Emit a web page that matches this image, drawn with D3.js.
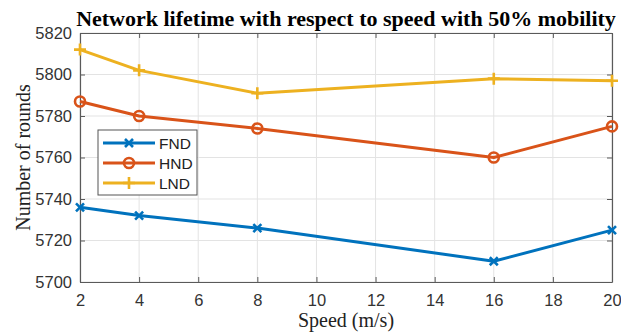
<!DOCTYPE html>
<html>
<head>
<meta charset="utf-8">
<script src="https://cdn.jsdelivr.net/npm/d3@7"></script>
<style>
  body { margin: 0; background: #fff; }
  svg { display: block; }
</style>
</head>
<body>
<div id="chart"></div>
<script>
const speeds = [2, 4, 8, 16, 20]
const fnd = [5736, 5732, 5726, 5710, 5725]
const hnd = [5787, 5780, 5774, 5760, 5775]
const lnd = [5812, 5802, 5791, 5798, 5797]
const xTicks = [2, 4, 6, 8, 10, 12, 14, 16, 18, 20]
const yTicks = [5700, 5720, 5740, 5760, 5780, 5800, 5820]

const series = [
  {name: "FND", values: fnd, color: "#0072BD", marker: "x"},
  {name: "HND", values: hnd, color: "#D95319", marker: "o"},
  {name: "LND", values: lnd, color: "#EDB120", marker: "+"},
]

const width = 621, height = 335
const margin = {top: 33, right: 9, bottom: 53, left: 80}

const x = d3.scaleLinear().domain([2, 20]).range([margin.left, width - margin.right])
const y = d3.scaleLinear().domain([5700, 5820]).range([height - margin.bottom, margin.top])

const svg = d3.select("#chart").append("svg")
  .attr("width", width)
  .attr("height", height)

const axisColor = "#5a5a5a"
const sans = "'Liberation Sans', Arial, sans-serif"
const serif = "'Liberation Serif', 'Times New Roman', serif"

// grid
svg.append("g")
  .selectAll("line")
  .data(xTicks)
  .join("line")
    .attr("x1", d => x(d)).attr("x2", d => x(d))
    .attr("y1", y.range()[0]).attr("y2", y.range()[1])
    .attr("stroke", "#e3e3e3").attr("stroke-width", 1)
svg.append("g")
  .selectAll("line")
  .data(yTicks)
  .join("line")
    .attr("y1", d => y(d)).attr("y2", d => y(d))
    .attr("x1", x.range()[0]).attr("x2", x.range()[1])
    .attr("stroke", "#e3e3e3").attr("stroke-width", 1)

// axes (inward ticks on all four sides, MATLAB box style)
const styleAxis = g => {
  g.select(".domain").attr("stroke", axisColor).attr("stroke-width", 1.2)
  g.selectAll(".tick line").attr("stroke", axisColor).attr("stroke-width", 1)
  g.selectAll(".tick text")
    .attr("fill", "#333")
    .style("font-family", sans)
    .style("font-size", "16.5px")
}

svg.append("g")
  .attr("transform", `translate(0,${y.range()[0]})`)
  .call(d3.axisBottom(x).tickValues(xTicks).tickSizeInner(-5).tickSizeOuter(0).tickPadding(12))
  .call(styleAxis)
svg.append("g")
  .attr("transform", `translate(0,${y.range()[1]})`)
  .call(d3.axisTop(x).tickValues(xTicks).tickSizeInner(-5).tickSizeOuter(0).tickFormat(""))
  .call(styleAxis)
svg.append("g")
  .attr("transform", `translate(${x.range()[0]},0)`)
  .call(d3.axisLeft(y).tickValues(yTicks).tickFormat(d3.format("d")).tickSizeInner(-5).tickSizeOuter(0).tickPadding(8))
  .call(styleAxis)
svg.append("g")
  .attr("transform", `translate(${x.range()[1]},0)`)
  .call(d3.axisRight(y).tickValues(yTicks).tickSizeInner(-5).tickSizeOuter(0).tickFormat(""))
  .call(styleAxis)

const drawMarker = (g, type, color, cx, cy) => {
  if (type == "o") {
    g.append("circle").attr("cx", cx).attr("cy", cy).attr("r", 5)
      .attr("fill", "none").attr("stroke", color).attr("stroke-width", 2.6)
  } else if (type == "x") {
    const s = 4
    g.append("path")
      .attr("d", `M${cx - s},${cy - s}L${cx + s},${cy + s}M${cx - s},${cy + s}L${cx + s},${cy - s}`)
      .attr("stroke", color).attr("stroke-width", 2.6)
  } else {
    const s = 6
    g.append("path")
      .attr("d", `M${cx - s},${cy}L${cx + s},${cy}M${cx},${cy - s}L${cx},${cy + s}`)
      .attr("stroke", color).attr("stroke-width", 2.6)
  }
}

const line = d3.line().x(d => x(d[0])).y(d => y(d[1]))

for (const s of series) {
  const pts = speeds.map((v, i) => [v, s.values[i]])
  const g = svg.append("g")
  g.append("path")
    .datum(pts)
    .attr("d", line)
    .attr("fill", "none")
    .attr("stroke", s.color)
    .attr("stroke-width", 3)
    .attr("stroke-linejoin", "round")
  for (const p of pts) drawMarker(g, s.marker, s.color, x(p[0]), y(p[1]))
}

// legend
const legend = svg.append("g").attr("transform", "translate(98,130)")
legend.append("rect")
  .attr("width", 99).attr("height", 65)
  .attr("fill", "#fff").attr("stroke", "#555").attr("stroke-width", 1)
series.forEach((s, i) => {
  const ly = 13 + i * 20
  legend.append("line")
    .attr("x1", 5).attr("x2", 57).attr("y1", ly).attr("y2", ly)
    .attr("stroke", s.color).attr("stroke-width", 3)
  drawMarker(legend, s.marker, s.color, 31, ly)
  legend.append("text")
    .attr("x", 61).attr("y", ly + 5.5)
    .attr("fill", "#222")
    .style("font-family", sans)
    .style("font-size", "15.5px")
    .text(s.name)
})

// titles
svg.append("text")
  .attr("x", (x.range()[0] + x.range()[1]) / 2)
  .attr("y", 26)
  .attr("text-anchor", "middle")
  .style("font-family", serif)
  .style("font-weight", "bold")
  .style("font-size", "22px")
  .attr("fill", "#000")
  .text("Network lifetime with respect to speed with 50% mobility")

svg.append("text")
  .attr("x", (x.range()[0] + x.range()[1]) / 2)
  .attr("y", 327)
  .attr("text-anchor", "middle")
  .style("font-family", serif)
  .style("font-size", "20px")
  .attr("fill", "#222")
  .text("Speed (m/s)")

svg.append("text")
  .attr("transform", `translate(30,${(y.range()[0] + y.range()[1]) / 2}) rotate(-90)`)
  .attr("text-anchor", "middle")
  .style("font-family", serif)
  .style("font-size", "20px")
  .attr("fill", "#222")
  .text("Number of rounds")
</script>
</body>
</html>
